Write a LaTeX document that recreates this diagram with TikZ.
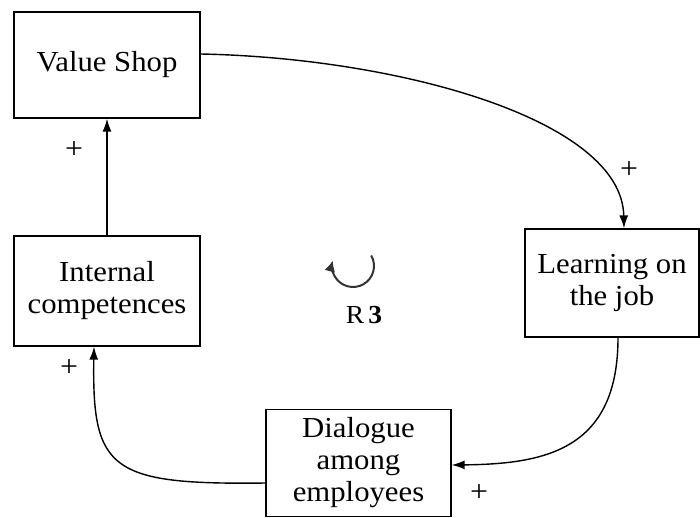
\documentclass[tikz,border=0pt]{standalone}
\usepackage{fontspec}
\setmainfont{Liberation Serif}[FakeStretch=1.06]
\usetikzlibrary{arrows.meta,calc}
\begin{document}
\begin{tikzpicture}[x=1pt,y=-1pt,
  box/.style={draw=black,line width=1.3pt,align=center,inner sep=0pt,
    font=\fontsize{29}{32}\selectfont},
  conn/.style={line width=1.4pt,-{Latex[length=13pt,width=9pt]}},
  pluslbl/.style={font=\fontsize{30}{32}\selectfont,inner sep=0pt}]
\useasboundingbox (0,0) rectangle (700,518);
\node[box,minimum width=186pt,minimum height=106pt] (vs) at (107,65) {Value Shop};
\node[box,minimum width=186pt,minimum height=110pt] (ic) at (107,291) {Internal\\competences};
\node[box,minimum width=174pt,minimum height=108pt] (lj) at (612,283) {Learning on\\the job};
\node[box,minimum width=185pt,minimum height=107pt] (dl) at (358.5,463) {Dialogue\\among\\employees};
\coordinate (vsout) at ($(vs.east)+(0,-11)$);
\coordinate (ljin) at ($(lj.north)+(12,0)$);
\coordinate (ljout) at ($(lj.south)+(6,0)$);
\coordinate (dlin) at ($(dl.east)+(0,2)$);
\coordinate (dlout) at ($(dl.west)+(0,20)$);
\coordinate (icin) at ($(ic.south)+(-13,0)$);
\draw[conn] (ic.north) -- (vs.south);
\draw[conn] (vsout) .. controls (400,58) and (622,120) .. (ljin);
\draw[conn] (ljout) .. controls (618,450) and (545,464) .. (dlin);
\draw[conn] (dlout) .. controls (110,485) and (92,470) .. (icin);
\node[pluslbl] (p1) at (74,150) {+};
\node[pluslbl] (p2) at (629,170) {+};
\node[pluslbl] (p3) at (479,493) {+};
\node[pluslbl] (p4) at (69,368) {+};
\coordinate (loopc) at (353,266);
\draw[line width=2pt,black!80,-{Latex[length=11pt,width=11pt]}] ([shift={(-30:21)}]loopc) arc[start angle=-30,end angle=195,radius=21];
\node[font=\fontsize{26}{28}\selectfont,inner sep=0pt] (r3) at (364,315) {R\,\textbf{3}};
\end{tikzpicture}
\end{document}
